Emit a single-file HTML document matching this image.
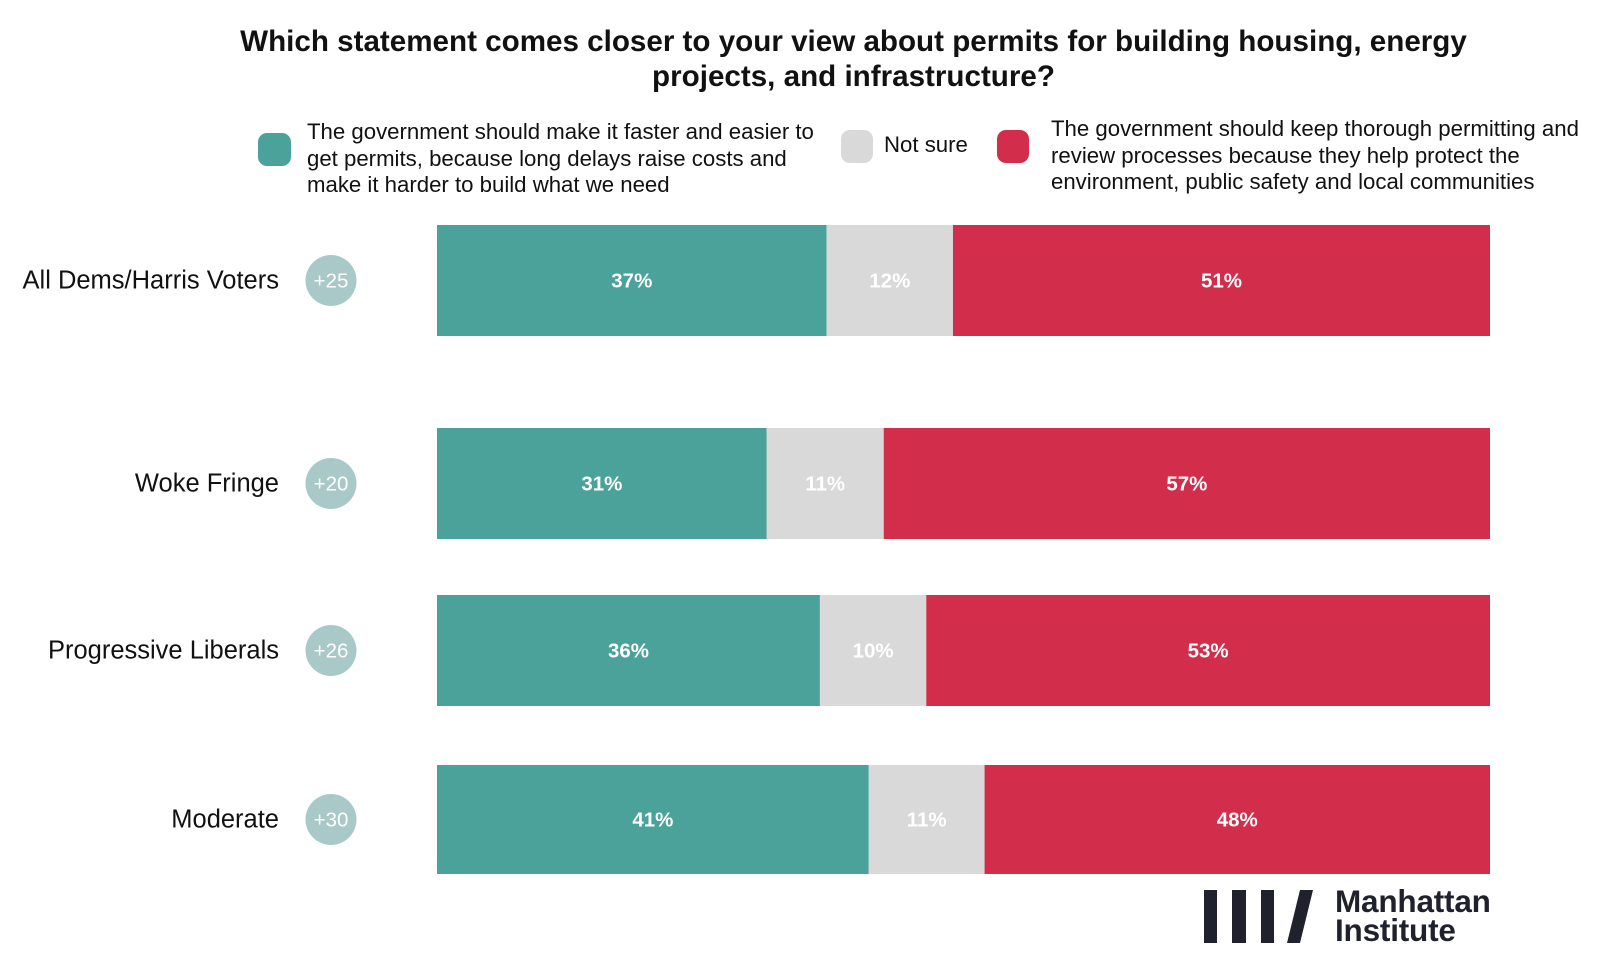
<!DOCTYPE html>
<html><head><meta charset="utf-8"><style>
body{margin:0;background:#fff;width:1617px;height:975px;overflow:hidden;font-family:"Liberation Sans",Arial,sans-serif;position:relative}
.t{position:absolute;color:#111}
</style></head><body>
<div class="t" style="left:45px;width:1617px;top:24px;text-align:center;font-weight:bold;font-size:29.6px;line-height:35px">Which statement comes closer to your view about permits for building housing, energy<br>projects, and infrastructure?</div>
<div style="position:absolute;left:258px;top:133px;width:33px;height:33px;border-radius:9px;background:#4aa29a"></div>
<div class="t" style="left:307px;top:119px;font-size:22.2px;line-height:26.5px">The government should make it faster and easier to<br>get permits, because long delays raise costs and<br>make it harder to build what we need</div>
<div style="position:absolute;left:841px;top:130px;width:32px;height:33px;border-radius:9px;background:#d9d9d9"></div>
<div class="t" style="left:884px;top:132px;font-size:22.2px;line-height:26.5px">Not sure</div>
<div style="position:absolute;left:997px;top:130px;width:32px;height:33px;border-radius:9px;background:#d22e4c"></div>
<div class="t" style="left:1051px;top:116px;font-size:22.2px;line-height:26.5px">The government should keep thorough permitting and<br>review processes because they help protect the<br>environment, public safety and local communities</div>
<svg id="chart" width="1617" height="975" style="position:absolute;left:0;top:0"></svg>
<div style="position:absolute;left:1204px;top:890px">
<svg width="110" height="54" style="position:absolute;left:0;top:0"><rect x="0" y="0" width="13" height="53" fill="#1f222d"/><rect x="28" y="0" width="14" height="53" fill="#1f222d"/><rect x="57" y="0" width="13" height="53" fill="#1f222d"/><polygon points="96,0 109,0 96,53 83,53" fill="#1f222d"/></svg>
<div class="t" style="left:131px;top:-3px;font-size:31.5px;font-weight:bold;line-height:29px;color:#1f222d;letter-spacing:-0.2px">Manhattan<br>Institute</div>
</div>
<script>
const categories=["All Dems/Harris Voters","Woke Fringe","Progressive Liberals","Moderate"];
const faster=[37,31,36,41];
const notSure=[12,11,10,11];
const thorough=[51,57,53,48];
const netLabels=["+25","+20","+26","+30"];
const ns="http://www.w3.org/2000/svg";
const svg=document.getElementById('chart');
const x0=437,x1=1490;
const barTop=[225,428,595,765],barH=[111,111,111,109];
function mk(t,a){const e=document.createElementNS(ns,t);for(const k in a)e.setAttribute(k,a[k]);svg.appendChild(e);return e;}
const cols=["#4aa29a","#d9d9d9","#d22e4c"];
categories.forEach((c,i)=>{
  const vals=[faster[i],notSure[i],thorough[i]];
  const tot=vals.reduce((a,b)=>a+b,0);
  const sx=v=>v/tot*(x1-x0);
  let x=x0;const y=barTop[i],h=barH[i],cy=y+h/2;
  vals.forEach((v,j)=>{
    const w=sx(v);
    const r=mk('rect',{x:x,y:y,width:w,height:h,fill:cols[j]});
    
    
    const t=mk('text',{x:x+w/2,y:cy+7,'text-anchor':'middle','font-size':20.5,'font-weight':'bold',fill:'#fff','font-family':'Liberation Sans, sans-serif'});
    t.textContent=v+'%';
    
    
    x+=w;
  });
  const l=mk('text',{x:279,y:cy+8,'text-anchor':'end','font-size':25.5,fill:'#111','font-family':'Liberation Sans, sans-serif'});
  l.textContent=c;
  
  
  const ci=mk('circle',{cx:331,cy:cy,r:25.5,fill:'#a8c9c7'});
  
  
  const nt=mk('text',{x:331,y:cy+7,'text-anchor':'middle','font-size':20.5,fill:'#fff','font-family':'Liberation Sans, sans-serif'});
  nt.textContent=netLabels[i];
  
  
});
</script>
</body></html>
